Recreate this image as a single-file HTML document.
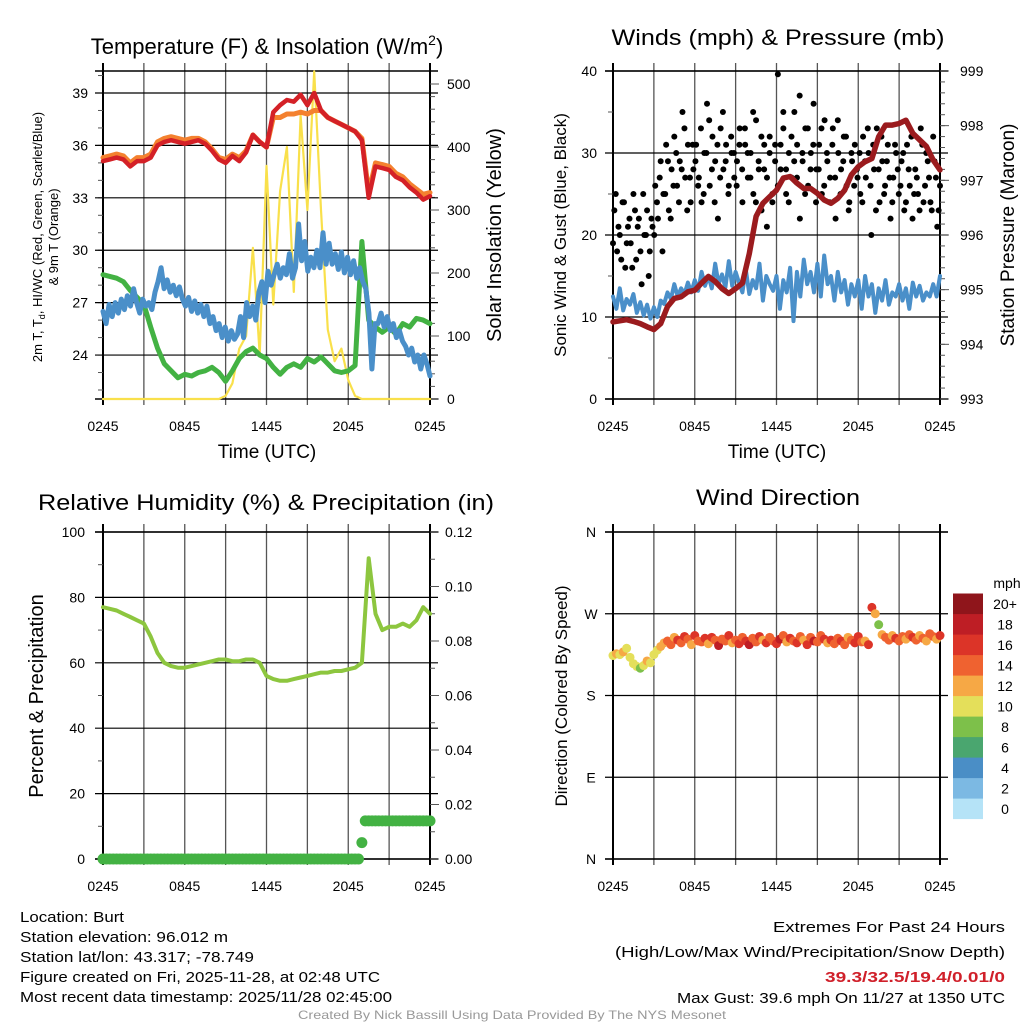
<!DOCTYPE html>
<html><head><meta charset="utf-8"><style>
html,body{margin:0;padding:0;background:#fff;}
svg{display:block;font-family:"Liberation Sans",sans-serif;}
</style></head><body>
<svg id="fig" width="1024" height="1024" viewBox="0 0 1024 1024" xmlns="http://www.w3.org/2000/svg">
<rect width="1024" height="1024" fill="#fff"/>
<!-- titles -->
<text x="267" y="54" font-size="22" text-anchor="middle">Temperature (F) &amp; Insolation (W/m<tspan font-size="14" dy="-9">2</tspan><tspan dy="9">)</tspan></text>
<text x="778" y="45" font-size="22" text-anchor="middle" textLength="333" lengthAdjust="spacingAndGlyphs">Winds (mph) &amp; Pressure (mb)</text>
<text x="266" y="510" font-size="22" text-anchor="middle" textLength="456" lengthAdjust="spacingAndGlyphs">Relative Humidity (%) &amp; Precipitation (in)</text>
<text x="778" y="505" font-size="22" text-anchor="middle" textLength="164" lengthAdjust="spacingAndGlyphs">Wind Direction</text>
<!-- axis titles -->
<text x="267" y="458" font-size="19" text-anchor="middle">Time (UTC)</text>
<text x="777" y="458" font-size="19" text-anchor="middle">Time (UTC)</text>
<text transform="translate(42,237) rotate(-90)" font-size="13" text-anchor="middle">2m T, T<tspan font-size="9" dy="3">d</tspan><tspan dy="-3">, HI/WC (Red, Green, Scarlet/Blue)</tspan></text>
<text transform="translate(58,237) rotate(-90)" font-size="13" text-anchor="middle">&amp; 9m T (Orange)</text>
<text transform="translate(501,235) rotate(-90)" font-size="20" text-anchor="middle">Solar Insolation (Yellow)</text>
<text transform="translate(566,235) rotate(-90)" font-size="17" text-anchor="middle">Sonic Wind &amp; Gust (Blue, Black)</text>
<text transform="translate(1014,235) rotate(-90)" font-size="19" text-anchor="middle">Station Pressure (Maroon)</text>
<text transform="translate(43,696) rotate(-90)" font-size="20" text-anchor="middle">Percent &amp; Precipitation</text>
<text transform="translate(567,696) rotate(-90)" font-size="17" text-anchor="middle">Direction (Colored By Speed)</text>
<text x="1007" y="588" font-size="14" text-anchor="middle">mph</text>
<!-- footer -->
<g font-size="15">
<text x="20" y="922" textLength="104" lengthAdjust="spacingAndGlyphs">Location: Burt</text>
<text x="20" y="942" textLength="208" lengthAdjust="spacingAndGlyphs">Station elevation: 96.012 m</text>
<text x="20" y="962" textLength="234" lengthAdjust="spacingAndGlyphs">Station lat/lon: 43.317; -78.749</text>
<text x="20" y="982" textLength="360" lengthAdjust="spacingAndGlyphs">Figure created on Fri, 2025-11-28, at 02:48 UTC</text>
<text x="20" y="1002" textLength="372" lengthAdjust="spacingAndGlyphs">Most recent data timestamp: 2025/11/28 02:45:00</text>
</g>
<g font-size="15" text-anchor="end">
<text x="1005" y="932" textLength="232" lengthAdjust="spacingAndGlyphs">Extremes For Past 24 Hours</text>
<text x="1005" y="957" textLength="390" lengthAdjust="spacingAndGlyphs">(High/Low/Max Wind/Precipitation/Snow Depth)</text>
<text x="1005" y="982" fill="#d0202a" font-weight="bold" textLength="180" lengthAdjust="spacingAndGlyphs">39.3/32.5/19.4/0.01/0</text>
<text x="1005" y="1003" textLength="328" lengthAdjust="spacingAndGlyphs">Max Gust: 39.6 mph On 11/27 at 1350 UTC</text>
</g>
<text x="512" y="1019" font-size="12" fill="#999" text-anchor="middle" textLength="428" lengthAdjust="spacingAndGlyphs">Created By Nick Bassill Using Data Provided By The NYS Mesonet</text>
<g id="plots"></g>
</svg>
<script>
// ===== data (half-hour unless noted) =====
const timeLabels = ["0245","0845","1445","2045","0245"];
const tempTicks = [24,27,30,33,36,39];
const solarTicks = [0,100,200,300,400,500];
const windTicks = [0,10,20,30,40];
const pressTicks = [993,994,995,996,997,998,999];
const rhTicks = [0,20,40,60,80,100];
const precipTicks = [0,0.02,0.04,0.06,0.08,0.10,0.12];
const dirTicks = ["N","E","S","W","N"];
const speedBins = ["0","2","4","6","8","10","12","14","16","18","20+"];
const binColors = ["#b5e3f7","#7cb9e3","#4a8ec6","#4aa66f","#7dc04a","#e4df5a","#f6a845","#ef6230","#dc3428","#be1e25","#8f151b"];

const temp2m = [35.1,35.2,35.3,35.2,34.8,35.1,35.1,35.3,36.0,36.2,36.3,36.2,36.1,36.2,36.3,36.1,35.7,35.2,35.0,35.4,35.1,35.6,36.6,36.2,35.9,37.9,38.3,38.6,38.5,38.9,38.3,39.0,38.0,37.6,37.4,37.2,37.0,36.8,36.3,33.0,34.8,34.7,34.6,34.2,34.0,33.6,33.3,32.9,33.1];
const temp9m = [35.3,35.4,35.5,35.4,35.0,35.3,35.3,35.5,36.2,36.4,36.5,36.4,36.3,36.4,36.4,36.2,35.8,35.3,35.2,35.5,35.3,35.7,36.6,36.2,35.9,37.6,37.6,37.8,37.8,37.9,37.8,38.0,38.0,37.6,37.4,37.2,37.0,36.8,36.4,33.3,35.0,34.9,34.8,34.4,34.2,33.8,33.5,33.2,33.3];
const dewpoint = [26.5,25.8,26.9,26.2,27.0,26.4,27.2,26.6,27.4, 26.8,27.8,27.0,26.4,27.2,26.8,27.0,26.6,27.6, 28.2,29.0,27.8,28.3,27.6,28.0,27.4,27.9,27.2, 26.8,27.3,26.5,27.1,26.4,26.9,26.2,26.8,25.8, 26.2,25.4,25.8,25.0,25.6,24.8,25.4,24.9,25.2, 26.2,25.0,27.0,26.2,26.8,26.0,27.6,28.2,27.0, 28.8,28.0,28.6,29.2,28.4,29.0,28.6,29.8,28.4, 29.0,31.5,29.4,30.5,28.8,29.6,29.0,30.0,29.0, 31.0,29.2,30.4,29.2,29.8,28.9,29.9,28.7,29.6, 28.6,29.4,28.4,29.0,28.2,27.8,26.4,23.2,25.8, 25.8,26.4,25.6,26.2,25.4,25.8,25.0,25.4,24.8, 24.5,24.0,24.4,23.6,24.0,23.2,24.0,23.5,22.8];
const heatIndex = [28.6,28.5,28.4,28.2,27.7,27.3,26.9,25.6,24.4,23.5,23.1,22.7,22.9,22.8,23.0,23.1,23.3,23.0,22.5,23.1,23.8,24.2,24.4,24.0,23.8,23.3,22.9,23.3,23.5,23.3,23.8,23.6,23.9,23.5,23.1,23.0,23.1,23.4,30.5,26.0,25.6,25.3,25.6,25.2,25.8,25.6,26.1,26.0,25.8];
const solar = [0,0,0,0,0,0,0,0,0,0,0,0,0,0,0,0,0,0,5,25,80,100,240,70,370,150,330,400,170,450,300,520,300,110,60,80,30,5,0,0,0,0,0,0,0,0,0,0,0];
const windSpeed = [12.5,11.0,13.5,10.8,12.2,11.5,12.8,10.5,11.8,10.2,11.5,9.8, 11.2,10.0,12.0,11.6,13.0,12.2,14.0,12.5,13.5,12.8,14.2,13.0, 14.5,13.2,15.5,13.8,15.0,13.5,16.5,14.0,15.2,13.6,16.8,13.8, 15.5,14.2,13.0,15.8,12.8,14.5,13.5,16.5,12.0,15.0,14.0,13.2, 15.0,11.0,14.5,13.0,16.0,9.5,15.5,12.5,17.0,14.0,15.5,13.0, 16.5,12.5,17.5,14.0,15.0,12.0,15.5,13.0,14.5,11.5,14.0,12.5, 14.5,11.0,15.0,12.5,14.0,10.5,13.5,12.0,14.5,11.5,13.0,12.5, 14.0,12.0,13.5,11.0,14.2,12.5,13.8,12.0,13.0,12.5,14.0,12.5,15.0];
const windGust = [19,25,21,17,24,19,22,16,23,21,18,25,20,15,22, 20,24,27,18,25,29,22,26,30,24,28,33,23,27,31, 29,26,33,25,30,34,28,24,31,27,35,29,25,32,30, 26,31,28,33,30,27,35,24,29,32,28,21,30,25,31, 39.6,28,33,25,30,27,35,31,22,29,33,26,30,36,28, 31,25,34,29,27,33,22,30,28,32,26,24,29,31,27, 25,32,27,30,20,28,33,24,29,26,31,22,27,30,25, 29,23,31,26,22,28,25,33,24,30,27,23,29,21,26];
const windGust2 = [23,18,20,24,16,21,19,25,17,22,14,20,23,18,21, 26,22,29,25,31,23,28,32,26,29,35,27,31,24,28, 31,27,24,30,36,26,32,29,22,33,28,31,26,30,27, 29,33,24,31,27,30,25,34,28,23,31,27,32,24,29, 26,31,35,28,24,32,29,27,37,30,25,33,28,31,24, 28,33,26,30,24,31,27,34,25,29,32,23,30,26,28, 30,24,29,33,26,31,23,28,32,25,29,27,24,31,28, 26,30,24,28,32,25,27,23,31,26,29,24,32,27,23];
const pressure = [994.41,994.43,994.45,994.42,994.38,994.32,994.27,994.38,994.69,994.84,994.87,994.96,994.99,995.12,995.24,995.15,995.02,994.93,995.02,995.12,995.66,996.34,996.58,996.70,996.82,997.04,997.07,996.95,996.85,996.85,996.76,996.64,996.58,996.67,996.82,997.10,997.25,997.34,997.40,997.80,998.01,998.01,998.04,998.10,997.86,997.74,997.62,997.37,997.19];
const humidity = [77,76.5,76,75,74,73,72,68,63,60,59,58.5,58.5,59,59.5,60,60.5,61,61,60.5,60.5,61,61,60,56,55,54.5,54.5,55,55.5,56,56.5,57,57,57.5,57.5,58,58.5,60,92,75,70,71,71,72,71,73,77,75];
// precipitation, quarter-hourly (97)
const precip = [0,0,0,0,0,0,0,0,0,0,0,0,0,0,0,0,0,0,0,0,0,0,0,0,0,0,0,0,0,0,0,0,0,0,0,0,0,0,0,0,0,0,0,0,0,0,0,0,0,0,0,0,0,0,0,0,0,0,0,0,0,0,0,0,0,0,0,0,0,0,0,0,0,0,0,0,0.006,0.014,0.014,0.014,0.014,0.014,0.014,0.014,0.014,0.014,0.014,0.014,0.014,0.014,0.014,0.014,0.014,0.014,0.014,0.014,0.014];
// wind direction & speed, quarter-hourly (97)
const windDir = [224,226,225,228,232,222, 215,212,210,213,218,216, 225,230,234,238, 240,236,244,241,238,245,242,236,246,240,239,243,237,244,241,235,242,240,246,238,241,237,244,240,236,243,239,245,241,238,244,240,237,242,246,239,243,240,238,245,241,236,244,240,239,246,242,238,241,237,243,240,236,244,241,238,245,239, 240,236,277,270,258,247, 244,241,246,243,240,245,242,247,244,241,246,243,240,248,245,242,246];
const dirSpeed = [11,12,10,13,11,10,10,11,9,10,12,11,10,11,12,13, 14,15,13,16,14,17,15,13,16,14,15,17,13,16,14,18,15,14,16,13,15,17,14,16,18,15,14,16,13,17,15,14,16,18,15,13,16,14,17,15,13,16,14,18,15,14,16,13,17,15,14,16,15,13,14,16,17,15, 13,17,17,12,8,13, 14,15,13,16,14,15,13,14,16,15,13,14,12,15,14,13,16];

// ===== helpers =====
const NS = "http://www.w3.org/2000/svg";
const root = document.getElementById("plots");
function mk(tag, attrs, parent){ const e=document.createElementNS(NS,tag); for(const k in attrs) e.setAttribute(k,attrs[k]); (parent||root).appendChild(e); return e; }
function xAt(p, i, n){ return p.x0 + (p.x1-p.x0)*i/(n-1); }

function panel(p, name){
  const g = mk("g",{});
  
  
  for(let k=0;k<=8;k++){
    const x=p.x0+(p.x1-p.x0)*k/8;
    const l=mk("line",{x1:x,x2:x,y1:p.yT-8,y2:p.yB+6,stroke:(k===0||k===8)?"#000":"#555","stroke-width":(k===0||k===8)?2:1.3},g);
    
    
  }
  for(let k=0;k<timeLabels.length;k++){
    const x=p.x0+(p.x1-p.x0)*k/4;
    const t=mk("text",{x:x,y:p.yB+32,"font-size":14,"text-anchor":"middle"},g);
    t.textContent=timeLabels[k];
    
    
  }
  const ft=mk("line",{x1:p.x0-8,x2:p.x1+8,y1:p.yT,y2:p.yT,stroke:"#000","stroke-width":1.5},g);
  
  
  const fb=mk("line",{x1:p.x0-8,x2:p.x1+8,y1:p.yB,y2:p.yB,stroke:"#000","stroke-width":1.5},g);
  
  
  return g;
}
function hgrid(g,p,y){
  const l=mk("line",{x1:p.x0-8,x2:p.x1+8,y1:y,y2:y,stroke:"#000","stroke-width":1.2},g);
  
  
}
function label(g,x,y,txt,anchor,name){
  const t=mk("text",{x:x,y:y,"font-size":14,"text-anchor":anchor},g);
  t.textContent=txt;
  
  
}
function tick(g,x1,x2,y){
  const l=mk("line",{x1:x1,x2:x2,y1:y,y2:y,stroke:"#555","stroke-width":1},g);
  
  
}
function line(g,p,vals,yf,color,w,name){
  const n=vals.length;
  const d=vals.map((v,i)=>(i?"L":"M")+xAt(p,i,n).toFixed(1)+","+yf(v).toFixed(1)).join("");
  const e=mk("path",{d:d,fill:"none",stroke:color,"stroke-width":w,"stroke-linejoin":"round","stroke-linecap":"round"},g);
  
  
}

// ===== Panel 1: temperature =====
const P1={x0:103,x1:430,yT:71,yB:399};
const yTemp=v=>93+(39-v)*17.47;
const ySolar=v=>399-v*0.63;
const g1=panel(P1,"temperature-panel");
for(let v=22;v<=40;v++){ if(yTemp(v)<P1.yB&&yTemp(v)>P1.yT) tick(g1,P1.x0-5,P1.x0,yTemp(v)); }
for(let v=20;v<=500;v+=20) tick(g1,P1.x1,P1.x1+5,ySolar(v));
tempTicks.forEach(v=>{ hgrid(g1,P1,yTemp(v)); label(g1,88,yTemp(v)+5,String(v),"end","temp-tick-label"); });
solarTicks.forEach(v=>{ tick(g1,P1.x1,P1.x1+9,ySolar(v)); label(g1,447,ySolar(v)+5,String(v),"start","solar-tick-label"); });
line(g1,P1,solar,ySolar,"#f9e04b",2.2,"solar-insolation-line");
line(g1,P1,heatIndex,yTemp,"#43b243",5,"heat-index-line");
line(g1,P1,dewpoint,yTemp,"#4a8fc9",5,"dewpoint-line");
line(g1,P1,temp9m,yTemp,"#f4812f",5,"temp-9m-line");
line(g1,P1,temp2m,yTemp,"#d42127",4.5,"temp-2m-line");

// ===== Panel 2: winds =====
const P2={x0:613,x1:940,yT:71,yB:399};
const yWind=v=>399-v*8.2;
const yPress=v=>399-(v-993)*54.67;
const g2=panel(P2,"winds-panel");
for(let v=5;v<40;v+=10) tick(g2,P2.x0-5,P2.x0,yWind(v));
for(let v=993.2;v<999;v+=0.2) tick(g2,P2.x1,P2.x1+5,yPress(v));
windTicks.forEach(v=>{ hgrid(g2,P2,yWind(v)); label(g2,597,yWind(v)+5,String(v),"end","wind-tick-label"); });
pressTicks.forEach(v=>{ tick(g2,P2.x1,P2.x1+9,yPress(v)); label(g2,960,yPress(v)+5,String(v),"start","pressure-tick-label"); });
line(g2,P2,windSpeed,yWind,"#4a8fc9",4,"sonic-wind-line");
windGust.forEach((v,i)=>{
  const c=mk("circle",{cx:xAt(P2,i,windGust.length),cy:yWind(v),r:3,fill:"#000"},g2);
  
  
});
windGust2.forEach((v,i)=>{
  const c=mk("circle",{cx:P2.x0+(P2.x1-P2.x0)*(i+0.5)/windGust2.length,cy:yWind(v),r:3,fill:"#000"},g2);
  
  
});
line(g2,P2,pressure,yPress,"#9b1b1e",5.5,"pressure-line");

// ===== Panel 3: humidity =====
const P3={x0:103,x1:430,yT:532,yB:859};
const yRH=v=>859-v*3.27;
const yPr=v=>859-v/0.12*327;
const g3=panel(P3,"humidity-panel");
for(let v=10;v<100;v+=20) tick(g3,P3.x0-5,P3.x0,yRH(v));
for(let v=0.01;v<0.12;v+=0.02) tick(g3,P3.x1,P3.x1+5,yPr(v));
rhTicks.forEach(v=>{ hgrid(g3,P3,yRH(v)); label(g3,85,yRH(v)+5,String(v),"end","humidity-tick-label"); });
precipTicks.forEach(v=>{ tick(g3,P3.x1,P3.x1+9,yPr(v)); label(g3,445,yPr(v)+5,v.toFixed(2),"start","precip-tick-label"); });
line(g3,P3,humidity,yRH,"#8dc63f",4,"humidity-line");
precip.forEach((v,i)=>{
  const c=mk("circle",{cx:xAt(P3,i,precip.length),cy:yPr(v),r:5.5,fill:"#43b243"},g3);
  
  
});

// ===== Panel 4: wind direction =====
const P4={x0:613,x1:940,yT:532,yB:859};
const yDir=v=>859-v*327/360;
const g4=panel(P4,"wind-direction-panel");
dirTicks.forEach((t,k)=>{ const y=yDir(k*90); hgrid(g4,P4,y); label(g4,591,y+5,t,"middle","direction-tick-label"); });
function binColor(s){ return binColors[Math.min(10,Math.max(0,Math.floor(s/2)))]; }
windDir.forEach((v,i)=>{
  const c=mk("circle",{cx:xAt(P4,i,windDir.length),cy:yDir(v),r:4.5,fill:binColor(dirSpeed[i])},g4);
  
  
});
// colorbar
const cb=mk("g",{});


speedBins.forEach((s,k)=>{
  const y=819-(k+1)*20.5;
  const r=mk("rect",{x:953,y:y,width:30,height:20.6,fill:binColors[k]},cb);
  
  
  label(cb,1005,y+15.5,s,"middle","colorbar-label");
});
</script>
</body></html>
